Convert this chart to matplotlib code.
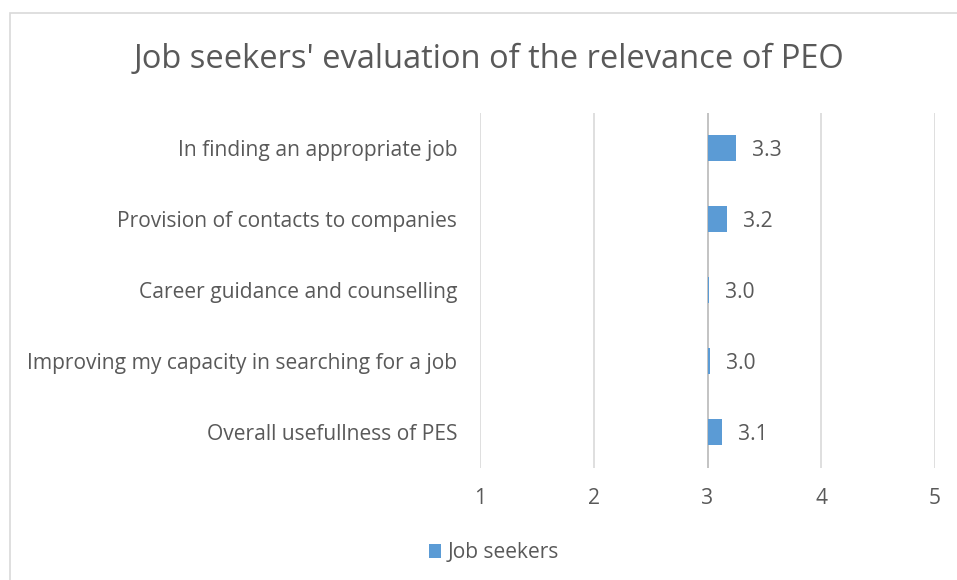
import matplotlib
matplotlib.use("Agg")
from matplotlib import pyplot as plt
from matplotlib.patches import Rectangle
import numpy as np

categories = [
    "In finding an appropriate job",
    "Provision of contacts to companies",
    "Career guidance and counselling",
    "Improving my capacity in searching for a job",
    "Overall usefullness of PES",
]
values = [3.25, 3.17, 3.01, 3.02, 3.13]
value_labels = ["3.3", "3.2", "3.0", "3.0", "3.1"]
x_ticks = [1, 2, 3, 4, 5]
series_name = "Job seekers"
title = "Job seekers' evaluation of the relevance of PEO"

text_color = "#595959"
grid_color = "#d9d9d9"
bar_color = "#5b9bd5"
plt.rcParams["font.family"] = ["Open Sans", "DejaVu Sans"]
fs = 15.1

fig = plt.figure(figsize=(9.57, 5.8), dpi=100)
ax = fig.add_axes([480 / 957, 1 - 467.5 / 580, 455 / 957, 355 / 580])

# chart border (runs off the right and bottom edges)
fig.patches.append(Rectangle((10 / 957, -0.1), 1.0, 1 - 13 / 580 + 0.1,
                             transform=fig.transFigure, fill=False,
                             edgecolor=grid_color, linewidth=1.2))

y = np.arange(len(categories))
base = 3
bars = ax.barh(y, np.array(values) - base, left=base, height=0.36,
               color=bar_color, label=series_name, zorder=3)

for yi, v, lab in zip(y, values, value_labels):
    ax.annotate(lab, (v, yi), xytext=(11.5, -1.5), textcoords="offset points",
                va="center", ha="left", fontsize=fs, color=text_color)

ax.set_xlim(1, 5)
ax.set_ylim(len(categories) - 0.5, -0.5)
ax.set_xticks(x_ticks)
ax.set_xticklabels([str(t) for t in x_ticks])
ax.set_yticks(y)
ax.set_yticklabels(categories)
ax.tick_params(axis="both", length=0, labelsize=fs, labelcolor=text_color)
ax.tick_params(axis="y", pad=16.5)
ax.tick_params(axis="x", pad=15)
ax.grid(axis="x", color=grid_color, linewidth=1.2, zorder=0)
ax.axvline(base, color="#bfbfbf", linewidth=1.2, zorder=2)
for s in ax.spines.values():
    s.set_visible(False)

fig.text(489 / 957, 1 - 60 / 580, title, ha="center", va="center",
         fontsize=23.5, color=text_color)

fig.legend(handles=[bars], labels=[series_name], loc="center",
           bbox_to_anchor=(494 / 957, 1 - 553 / 580), frameon=False,
           fontsize=fs, labelcolor=text_color, handlelength=0.6,
           handleheight=0.6, handletextpad=0.3)

fig.savefig("out.png", dpi=100)
